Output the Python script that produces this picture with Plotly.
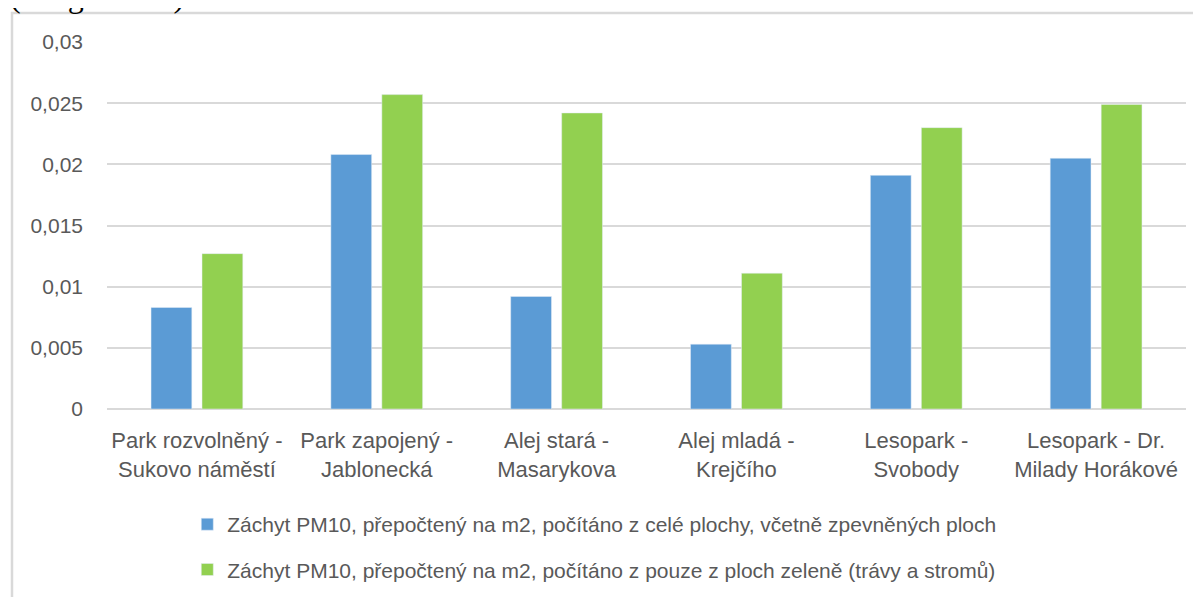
import plotly.graph_objects as go

categories = [
    "Park rozvolněný -<br>Sukovo náměstí",
    "Park zapojený -<br>Jablonecká",
    "Alej stará -<br>Masarykova",
    "Alej mladá -<br>Krejčího",
    "Lesopark -<br>Svobody",
    "Lesopark - Dr.<br>Milady Horákové",
]
series_names = [
    "Záchyt PM10, přepočtený na m2, počítáno z celé plochy, včetně zpevněných ploch",
    "Záchyt PM10, přepočtený na m2, počítáno z pouze z ploch zeleně (trávy a stromů)",
]
values_total = [0.0083, 0.0208, 0.0092, 0.0053, 0.0191, 0.0205]
values_green = [0.0127, 0.0257, 0.0242, 0.0111, 0.0230, 0.0249]
tick_vals = [0, 0.005, 0.01, 0.015, 0.02, 0.025, 0.03]
tick_text = ["0", "0,005", "0,01", "0,015", "0,02", "0,025", "0,03"]
caption = "(viz graf č. 6)."

FONT = "Liberation Sans, Arial, sans-serif"
GREY = "#595959"
GRID = "#D9D9D9"

L, T, PW, PH = 99, 34, 1079, 367  # plot area in figure pixels

fig = go.Figure()
fig.add_trace(go.Bar(x=categories, y=values_total, name=series_names[0],
                     marker_color="#5B9BD5", legendgroup="a"))
fig.add_trace(go.Bar(x=categories, y=values_green, name=series_names[1],
                     marker_color="#92D050", legendgroup="b"))

fig.update_layout(
    width=1201, height=597,
    margin=dict(l=L, r=1201 - L - PW, t=T, b=597 - T - PH, autoexpand=False),
    paper_bgcolor="white", plot_bgcolor="white",
    barmode="group", bargap=0.433, bargroupgap=0.2,
    font=dict(family=FONT, color=GREY, size=21),
    showlegend=True,
    legend=dict(orientation="v", x=0.0744, xanchor="left", y=-0.259, yanchor="top",
                font=dict(size=21, color=GREY), traceorder="grouped",
                tracegroupgap=15, bgcolor="rgba(0,0,0,0)"),
    xaxis=dict(showgrid=False, showline=False, zeroline=False,
               tickfont=dict(size=22, color=GREY), ticks="", ticklabelstandoff=16),
    yaxis=dict(range=[0, 0.03], tickvals=tick_vals, ticktext=tick_text,
               showgrid=True, gridcolor=GRID, gridwidth=2,
               zeroline=True, zerolinecolor=GRID, zerolinewidth=2,
               showline=False, ticks="", ticklabelstandoff=23,
               tickfont=dict(size=21, color=GREY)),
)

# chart border (figure pixels -> paper fractions)
bottom = T + PH
fig.add_shape(type="rect", xref="paper", yref="paper",
              x0=(4 - L) / PW, x1=(1192 - L) / PW,
              y0=(bottom - 620) / PH, y1=(bottom - 5) / PH,
              line=dict(color=GRID, width=2.5), fillcolor="rgba(0,0,0,0)", layer="below")

fig.add_annotation(text=caption, xref="paper", yref="paper",
                   x=(0 - L) / PW, y=(bottom - 8) / PH, xanchor="left", yanchor="bottom",
                   showarrow=False, font=dict(family="Liberation Serif, Times New Roman, serif",
                                              size=32, color="black"))

fig.write_html("out.html")
